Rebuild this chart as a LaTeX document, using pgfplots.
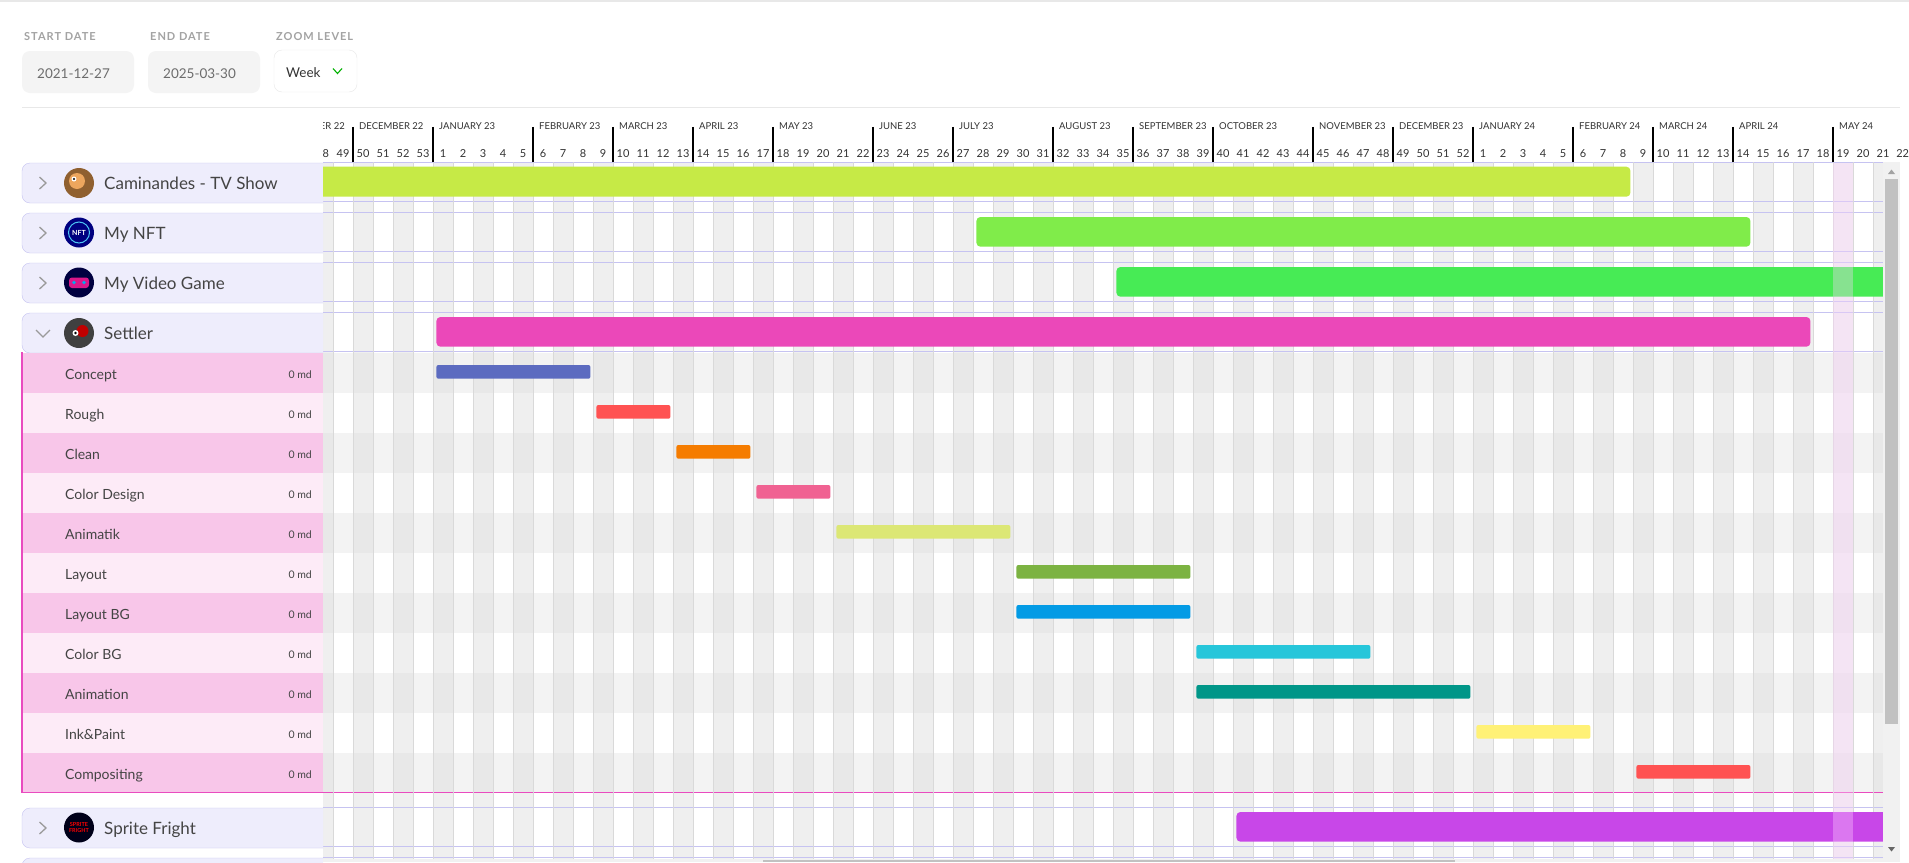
\documentclass[border=0pt]{standalone}
\usepackage{fontspec}
\setmainfont{Lato}
\usepackage{pgfplots}
\pgfplotsset{compat=1.18}

\definecolor{lav}{HTML}{EEEDFC}
\definecolor{lavline}{HTML}{C6C3F1}
\definecolor{pinkA}{HTML}{F8C6E9}
\definecolor{pinkB}{HTML}{FDEBF7}
\definecolor{pinkline}{HTML}{E94BBF}
\definecolor{colgray}{HTML}{EFEFEF}
\definecolor{rowlight}{HTML}{F3F3F3}
\definecolor{rowdark}{HTML}{E8E8E8}
\definecolor{gridc}{HTML}{D9D9D9}
\definecolor{txt}{HTML}{444444}
\definecolor{hdr}{HTML}{333333}
\definecolor{lbl}{HTML}{A3A3A3}
\definecolor{inbox}{HTML}{F4F4F4}
\definecolor{chev}{HTML}{9A9A9A}
\definecolor{nowc}{HTML}{FFD2FF}
\definecolor{sbtrack}{HTML}{F1F1F1}
\definecolor{sbthumb}{HTML}{C1C1C1}
% bar colours
\definecolor{cCam}{HTML}{C6EA46}
\definecolor{cNft}{HTML}{80EC4A}
\definecolor{cVg}{HTML}{47EB55}
\definecolor{cSet}{HTML}{EB48B9}
\definecolor{cSpr}{HTML}{C847E8}
\definecolor{cConcept}{HTML}{5C6BC0}
\definecolor{cRough}{HTML}{FF5252}
\definecolor{cClean}{HTML}{F57C00}
\definecolor{cColDes}{HTML}{F06292}
\definecolor{cAnimatik}{HTML}{DCE775}
\definecolor{cLayout}{HTML}{7CB342}
\definecolor{cLayBG}{HTML}{039BE5}
\definecolor{cColBG}{HTML}{26C6DA}
\definecolor{cAnim}{HTML}{009688}
\definecolor{cInk}{HTML}{FFF176}
\definecolor{cComp}{HTML}{FF5252}

% bar: [radius] start end top bottom colour  (x in weeks, y in px from the top)
\newcommand{\gbar}[6][4pt]{\addplot[fill=#6, draw=none, rounded corners=#1]
  coordinates {(#2,-#4) (#3,-#4) (#3,-#5) (#2,-#5)} -- cycle;}

\newcommand{\proj}[2]{%
  \filldraw[fill=lav, draw=lavline, rounded corners=8pt] (323,#1) -- (22,#1) -- (22,#1+40) -- (323,#1+40);
  \draw[chev, line width=1.3pt] (39.5,#1+14) -- (46,#1+20) -- (39.5,#1+26);
  \node[anchor=base west, inner sep=0pt, font=\fontsize{17}{20}\selectfont, text=txt] at (104,#1+26.5) {#2};}

\newcommand{\task}[3]{%
  \fill[#2] (22,#1-20) rectangle (323,#1+20);
  \node[anchor=base west, inner sep=0pt, font=\fontsize{14}{16}\selectfont, text=txt] at (65,#1+6.5) {#3};
  \node[anchor=base east, inner sep=0pt, font=\fontsize{10.5}{12}\selectfont, text=txt] at (312,#1+5.3) {0 md};}

\begin{document}
\begin{tikzpicture}
\begin{scope}[x=1pt, y=-1pt]
\path[use as bounding box] (0,0) rectangle (1909,862);
\fill[white] (0,0) rectangle (1909,862);
\fill[rowdark] (0,0) rectangle (1909,2);

% date controls
\begin{scope}[every node/.style={inner sep=0pt}]
\node[anchor=base west, font=\fontsize{11}{12}\selectfont\bfseries\addfontfeatures{LetterSpace=9}, text=lbl] at (24,40.5) {START DATE};
\node[anchor=base west, font=\fontsize{11}{12}\selectfont\bfseries\addfontfeatures{LetterSpace=9}, text=lbl] at (150,40.5) {END DATE};
\node[anchor=base west, font=\fontsize{11}{12}\selectfont\bfseries\addfontfeatures{LetterSpace=9}, text=lbl] at (276,40.5) {ZOOM LEVEL};
\fill[inbox, rounded corners=8pt] (22,51) rectangle (134,93);
\fill[inbox, rounded corners=8pt] (148,51) rectangle (260,93);
\draw[rowdark, fill=white, rounded corners=8pt] (274,50) rectangle (357,92);
\node[anchor=base west, font=\fontsize{13.5}{16}\selectfont, text=gray!85!black] at (37,78) {2021-12-27};
\node[anchor=base west, font=\fontsize{13.5}{16}\selectfont, text=gray!85!black] at (163,78) {2025-03-30};
\node[anchor=base west, font=\fontsize{13.5}{16}\selectfont, text=hdr] at (286,77.5) {Week};
\draw[green!70!black, line width=1.1pt] (333,68.5) -- (337.5,73.5) -- (342,68.5);
\end{scope}
\draw[rowdark, line width=1pt] (22,107) -- (1900,107);

% timeline background
\begin{scope}
\clip (323,162) rectangle (1883,862);
\foreach \u in {-2,0,...,76} \fill[colgray] ({352.7+20*\u},162) rectangle +(20,700);
\foreach \r in {0,2,...,10} {
  \fill[rowlight] (323,353+40*\r) rectangle (1883,393+40*\r);
  \foreach \u in {-2,0,...,76} \fill[rowdark] ({352.7+20*\u},353+40*\r) rectangle +(20,40);
}
\foreach \yy in {162.3,201.3,212.3,251,262.3,301,312.3,351.3,807.3,846.3,857.3}
  \draw[lavline, line width=1pt] (323,\yy) -- (1883,\yy);
\draw[pinkline, line width=1.2pt] (323,792.5) -- (1883,792.5);
\end{scope}

% left panel
\proj{163}{Caminandes - TV Show}
\proj{213}{My NFT}
\proj{263}{My Video Game}
\filldraw[fill=lav, draw=lavline, rounded corners=8pt] (323,313) -- (22,313) -- (22,353) -- (323,353);
\draw[chev, line width=1.3pt] (36,330) -- (43,337) -- (50,330);
\node[anchor=base west, inner sep=0pt, font=\fontsize{17}{20}\selectfont, text=txt] at (104,339.5) {Settler};
\task{373}{pinkA}{Concept}
\task{413}{pinkB}{Rough}
\task{453}{pinkA}{Clean}
\task{493}{pinkB}{Color Design}
\task{533}{pinkA}{Animatik}
\task{573}{pinkB}{Layout}
\task{613}{pinkA}{Layout BG}
\task{653}{pinkB}{Color BG}
\task{693}{pinkA}{Animation}
\task{733}{pinkB}{Ink\&Paint}
\task{773}{pinkA}{Compositing}
\draw[pinkline, line width=1.2pt] (22,352) -- (22,792.5) -- (323,792.5);
\proj{808}{Sprite Fright}
\filldraw[fill=lav, draw=lavline, rounded corners=8pt] (323,858) -- (22,858) -- (22,880) -- (323,880);

% avatars
\fill[brown!75!black] (79,183) circle (15);
\fill[brown!40!orange!70] (77,181) circle (8);
\fill[white] (74,179) circle (2.5); \fill[black] (74,179) circle (1.2);
\fill[blue!50!black] (79,232.5) circle (15);
\draw[cyan!70, line width=1pt] (79,232.5) circle (10.5);
\node[font=\fontsize{7}{8}\selectfont\bfseries, text=white] at (79,232.5) {NFT};
\fill[blue!25!black] (79,282.5) circle (15);
\fill[magenta!80!violet, rounded corners=3pt] (69,277.5) rectangle (89,288);
\fill[cyan] (74,282.5) circle (1.8); \fill[cyan] (84,282.5) circle (1.8);
\fill[black!75] (79,333) circle (15);
\fill[red!75!black] (82.5,331) circle (6);
\fill[white] (75.5,333) circle (3); \fill[black] (75.5,333) circle (1.3);
\fill[black!90!blue] (79,827.5) circle (15);
\node[align=center, font=\fontsize{5.5}{5.5}\selectfont\bfseries, text=red] at (79,827.5) {SPRITE\\FRIGHT};
\end{scope}

% chart
\begin{axis}[
  at={(323pt,-162pt)}, anchor=north west,
  x=20pt, y=1pt,
  xmin=-1.5, xmax=76.5, ymin=-862, ymax=-162,
  axis line style={draw=none},
  ytick=\empty,
  xtick pos=right, xticklabel pos=right,
  xtick={-0.5,0.5,...,76.5},
  xticklabels={49,50,51,52,53,1,2,3,4,5,6,7,8,9,10,11,12,13,14,15,16,17,18,19,20,21,22,23,24,25,26,27,28,29,30,31,32,33,34,35,36,37,38,39,40,41,42,43,44,45,46,47,48,49,50,51,52,1,2,3,4,5,6,7,8,9,10,11,12,13,14,15,16,17,18,19,20,21},
  xticklabel style={anchor=base, inner sep=0pt, yshift=4.5pt, text=hdr, font=\fontsize{11}{12}\selectfont},
  major tick length=0pt, minor tick length=0pt,
  minor xtick={-1,0,...,76},
  xminorgrids=true,
  minor x grid style={gridc, line width=1pt},
  extra x ticks={0,4,9,13,17,21,26,30,35,39,43,48,52,56,61,65,69,74},
  extra x tick labels={DECEMBER 22,JANUARY 23,FEBRUARY 23,MARCH 23,APRIL 23,MAY 23,JUNE 23,JULY 23,AUGUST 23,SEPTEMBER 23,OCTOBER 23,NOVEMBER 23,DECEMBER 23,JANUARY 24,FEBRUARY 24,MARCH 24,APRIL 24,MAY 24},
  extra x tick style={major tick length=35.2pt, tick align=outside,
    tick style={black, line width=2pt},
    xticklabel style={anchor=base west, xshift=6pt, yshift=-6.7pt, font=\fontsize{9.5}{12}\selectfont}},
]
% projects
\gbar{-3}{63.87}{166.7}{196.7}{cCam}
\gbar{31.17}{69.87}{217}{246.7}{cNft}
\gbar{38.17}{80}{267}{296.7}{cVg}
\gbar{4.17}{72.87}{317}{346.7}{cSet}
\gbar{44.17}{80}{812}{841.7}{cSpr}
% Settler tasks
\gbar[2pt]{4.17}{11.87}{365}{378.7}{cConcept}
\gbar[2pt]{12.17}{15.87}{405}{418.7}{cRough}
\gbar[2pt]{16.17}{19.87}{445}{458.7}{cClean}
\gbar[2pt]{20.17}{23.87}{485}{498.7}{cColDes}
\gbar[2pt]{24.17}{32.87}{525}{538.7}{cAnimatik}
\gbar[2pt]{33.17}{41.87}{565}{578.7}{cLayout}
\gbar[2pt]{33.17}{41.87}{605}{618.7}{cLayBG}
\gbar[2pt]{42.17}{50.87}{645}{658.7}{cColBG}
\gbar[2pt]{42.17}{55.87}{685}{698.7}{cAnim}
\gbar[2pt]{56.17}{61.87}{725}{738.7}{cInk}
\gbar[2pt]{64.17}{69.87}{765}{778.7}{cComp}
\end{axis}

\begin{scope}[x=1pt, y=-1pt]
% current week
\fill[nowc, fill opacity=0.35] (1832.7,162.5) rectangle (1852.7,859);

% partial header labels at the edges
\begin{scope}
\clip (323,100) rectangle (1909,161);
\node[anchor=base, inner sep=0pt, text=hdr, font=\fontsize{11}{12}\selectfont] at (322.7,157.5) {48};
\node[anchor=base, inner sep=0pt, text=hdr, font=\fontsize{11}{12}\selectfont] at (1902.7,157.5) {22};
\node[anchor=base east, inner sep=0pt, text=hdr, font=\fontsize{9.5}{12}\selectfont] at (345,129) {NOVEMBER 22};
\end{scope}

% scrollbars
\fill[sbtrack] (1883,162) rectangle (1900,862);
\fill[sbthumb] (1885,179) rectangle (1898,724);
\fill[lbl] (1888,174) -- (1891.5,169.5) -- (1895,174) -- cycle;
\fill[black!60] (1888,847) -- (1891.5,851.5) -- (1895,847) -- cycle;
\fill[sbtrack] (323,859) rectangle (1883,862);
\fill[sbthumb] (763,860) rectangle (1455,862);
\end{scope}
\end{tikzpicture}
\end{document}
